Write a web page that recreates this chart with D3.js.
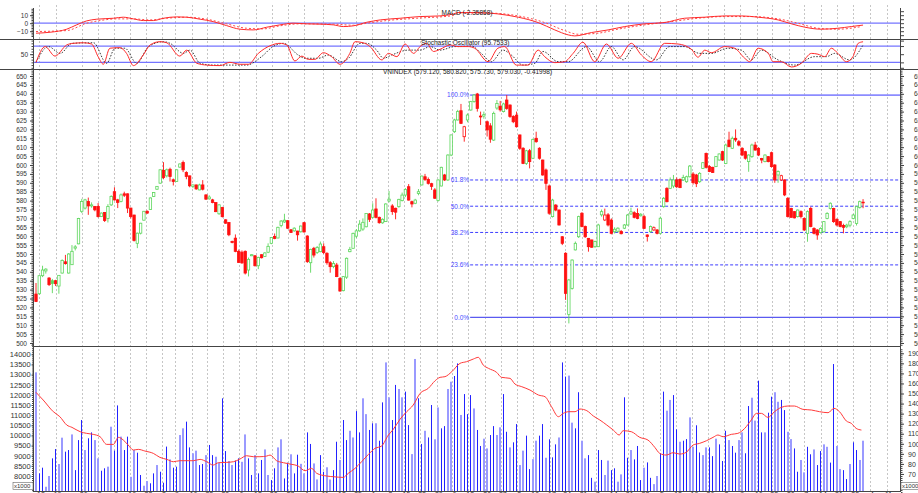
<!DOCTYPE html>
<html><head><meta charset="utf-8">
<script src="https://cdn.jsdelivr.net/npm/d3@7"></script>
<style>body{margin:0;background:#fff;}svg{display:block;font-family:"Liberation Sans",Arial,sans-serif;}</style>
</head><body><svg id="c" width="918" height="493"></svg>
<script>
// ---------------- DATA ----------------
const open=[527.5,527.7,537.8,540.5,536.5,535,535,532,539.3,545.6,
539.3,544,553.3,555.7,574,575.8,579.5,577,576.7,576.7,
571,573.3,570,577.6,585,580.4,579.5,583.8,583.8,575.8,
571.9,556,561.7,569,574,575,582.3,586.4,589.8,597,
593.9,597.6,591.7,590.7,598.8,601.4,595.8,593.9,587.9,588.8,
586,588.8,583.2,581,580.4,578.9,572.6,576.1,569.2,567.7,
557,558.9,551.5,551,551.5,541,549,549,543.4,549.6,
548.6,551,556,559.9,559,566,568,568.7,563.6,563,
562.9,562.5,567.6,560.1,545.1,553.2,550.8,551.3,554.1,550.4,
545.1,542.9,543.8,536.3,529.4,537,551.3,553.2,560,563,
564,565.3,572.5,570.6,575.3,570.6,567.5,568.2,579.8,577,
575.7,576.6,580,583.1,587.8,579.4,578.5,584,588.8,593.4,
591.9,589.5,586,580,588.2,594.4,591.6,605.6,618.7,625.3,
630.5,615.9,625.3,630.9,635.6,639.9,627.5,627.5,624.3,622,
614,632,633,630,636.5,633.7,627.2,628,616.9,609.4,
600.9,608,603.8,615,609.4,602.8,597.2,588.2,571,577.5,
574.7,559.7,550.4,516,530.7,552.3,559.7,572.9,565.4,558.8,
557.9,554.1,554.1,572,569.1,572,569.1,562.5,562.8,562.7,
564.5,566.3,572.5,573.2,572.8,571.5,571,560.7,562.5,563.5,
563.5,561.6,576.6,586.9,586.9,588.2,591.6,591.9,591.6,590.6,
593.4,594.9,594.4,590.6,598.1,606.5,599.1,598.7,599.1,602.8,
607.5,600.9,614,609.4,615,613.1,609.4,607.5,601.9,604.7,
611.2,609.4,603.7,601.9,604.7,606.9,600,594.4,591.6,591.6,
581.3,575.6,573.8,571,573.8,570,561.6,575.6,564.4,563.5,
562,562.5,570,575.6,575.6,569.5,568.2,566,565.3,566.2,
570,567.2,576.2,579.12];
const high=[533.7,538,543.4,542,537,536,535.5,538,547,549.5,
550.5,555,555,570.3,581,581,581.7,579,577,578.6,
573.3,573.6,578,583,587.5,581,584,585,584,576,
572,562,567.5,574.2,574.5,581.7,584.8,588.2,597.5,601.6,
598,598.5,592.4,597.5,600.8,602.5,596.5,594,589,589,
589.5,591.5,583.5,583,581,579,578,576.5,569.5,568,
557.5,561,552.5,552,552,548,550,549.3,548.5,549.8,
551,556,559.5,561.5,565.3,569,572.6,569,564,565,
563,566,568,560.5,553,554,554.5,557,556,551,
546,546,545,537,537.5,548,554,562,564,569,
570,573,573,578.5,581.3,571,570,578.5,585.4,578,
576,581,584.5,587,589.3,580,581,586.5,594,595,
593,590,587,592,599,595,606,617,626,631,
634.3,622,629,636,639.8,640.5,630,630,625,623.5,
630,636.5,636,635,639.3,634,628,630,617,610,
608.5,609,614.8,618.7,610,603,598,589,581,578,
575,560,551,536,547,557,571.5,573.5,566,559,
558,557.5,567,575,575.5,573,570,565,565,563.5,
566.8,572.5,576,574,575.6,573,572,561,566,565.5,
564,571,582,587.5,593,594.4,593,592.5,594.5,594,
600,596,595,596,601.6,607,600,599,605,606.5,
608,612,618.7,616,620,614,610,608,606,612,
613,610,604,606,605,607.5,600.5,597,594.5,592,
582,576,574,575,574.5,570.5,574.5,576.5,565,564,
565,568.5,573.5,579,576,570,568.5,567,567,569,
572.5,577,580,580.82];
const low=[523,527,537,539,532,528,532,527.7,539,544,
539,544,552,555.5,573,575,572,576,574,570.5,
570.8,568,567.7,577,580,575.8,579,582,573,570,
557,553.3,561,568.8,572.5,574.8,582,586,589.5,592,
593,590.7,588.5,590.5,598.5,596,592,587.5,587,586,
585.8,585.7,580.5,580.5,578.5,573.5,572,570.5,567,560,
556,551,545,544.5,538.5,537.4,548.8,543,541.5,547.5,
548.3,550.5,555.5,558.3,558.8,565,567.5,564,561.8,562.5,
557.5,562,562,545,539.5,548,550,551,550,544,
539.5,542,537,528.8,529,536,551,553,559,562.5,
563,565,568,570,570,567,567,568,579,572,
569.5,576,579.5,582,580,576.2,578,583,588.5,591,
589,586,581,579.5,588,591,591,605,618,625,
623,613.1,624,630.5,635,630,622.5,626,616,612.5,
613.5,631,630,629.5,631,626.5,623.5,621,608.5,600.5,
600,598.1,603.5,612.5,603,594,586,572,570.5,574,
566,555,524.2,511,530,552,559,565,559,551.3,
553.5,553.5,554,571,568.5,565.5,561,561.5,562,561,
564,566,572,570,569.5,571,564,557,562,563,
561,561,576,579,586.5,587,587,587,591,590,
593,589,587.6,590,597.8,598,596,595.5,598.8,602.5,
602.3,600.5,610,609,613,610.5,605,603,596.2,604,
608,605,601,601.5,601.5,598.5,590,590,591,582.5,
570.5,570.5,570,570.5,570,563,556.9,565,561,558,
561.5,562,569.5,575,567.5,565.5,565,561.6,564.5,565,
569.5,566,575.5,575.73];
const close=[523.3,537.8,541,541.5,532.8,533.5,533.3,538,546.4,544.6,
550,551.5,554,570,579.5,580.4,577,577.6,574.8,571,
573,568.8,576.7,582.3,580.4,579,583.2,583,575.8,571,
557.6,561.7,567.3,574,573,581.5,584.5,588,597.3,593,
597.3,593.5,590.7,597.3,600.6,597.3,593.5,588.3,588.8,586.6,
588.8,586.4,580.8,582,578.9,573.8,577.6,571,567.3,560.8,
556.5,551.5,545.3,545,539.3,547,549.6,543.4,548.1,547.9,
550.6,554.3,559.3,558.7,565,568.5,569,564.5,562.1,564.5,
560.8,565.7,562.4,545.7,552.6,549.4,553.7,555.6,550.8,545.1,
542.9,544.7,537.3,529.2,537.3,547.6,552.6,561.6,563,566.8,
567.8,572.8,569.5,574.7,570.6,567.6,569.5,578.1,580.8,573.8,
573.5,580.7,583.1,586.3,580.3,578.1,580.3,585,593.8,591.9,
589.7,588,581.3,591.6,598.7,591.6,605.6,616.9,625.3,630,
623.4,621.5,628.1,635.6,639.3,631.8,627,628.3,619.7,614.5,
629,634.5,631,634.3,631.8,627.2,624.3,621.5,609.4,600.9,
608,601.9,614.4,613.1,603.8,594.4,589.7,572.9,580.3,574.7,
566.3,556,527.9,535.4,546.6,556,571,565.4,559.7,554.1,
553.8,557,566.3,573.8,571.9,566.3,561.6,563.9,564.5,561.4,
566.3,571.9,573.7,570.6,570,572.3,564.4,559.8,565.4,564.8,
561.6,570.1,581.3,579.4,591.6,591.6,587.8,587.3,593,593.4,
599.4,590.1,589.5,595.3,601.3,598.7,596.3,595.8,604.7,606.2,
602.8,611.2,610.3,615,614.1,611.2,605.6,603.8,605.6,611.2,
608.4,605.6,602.8,605.6,601.9,599.1,591.6,596.3,594,583.2,
571,570.6,570.3,574.7,571,563.5,573.8,565.4,561.6,560.7,
564.4,568.2,572.8,578.5,568.2,566.3,565.4,565,566.2,568.2,
571.9,576.6,579.4,579.03];
const volume=[13110,8130,8410,7470,8000,8870,9330,8590,9890,9200,
9280,10050,8290,9770,10760,9280,9860,10150,9770,8870,
8260,8380,8460,10430,9250,11480,9940,9280,9940,7960,
9280,9150,8050,7520,7750,7640,8130,8540,8210,7670,
9450,8820,8410,8460,10020,10350,10680,9410,9120,9250,
8540,8590,9030,9530,9030,8950,8660,11830,9230,8740,
8540,8760,8870,8700,10050,8870,8050,9030,8130,8790,
9310,8050,7800,8380,9410,9810,7880,8660,9070,8130,
9050,8600,8130,10150,9580,8620,7830,9030,8210,8430,
7830,8290,9690,8790,10760,9770,10230,9900,11200,10150,
11830,11050,10270,10600,10600,9740,11630,13600,11880,10760,
12490,12290,11880,12160,10510,9080,13770,11830,9580,10230,
9900,11500,9810,11380,10350,10460,12290,12650,12930,13550,
11010,12040,11050,11990,11330,10270,9480,9840,9360,10020,
10460,10020,10400,12040,10180,9410,9660,10560,8540,9250,
9990,8340,8830,9740,9990,10560,8900,9810,8920,9560,
9900,13600,12900,12950,10630,10350,12130,9740,8870,9030,
7910,7720,9280,8790,8050,8760,8290,8380,7720,8080,
11880,8900,9280,8820,9480,7800,8410,8670,7910,7600,
8000,9120,12160,11220,11750,11990,10300,9690,9740,9820,
10890,9440,10500,9160,9030,9410,9410,8980,9840,9560,
8740,10230,9770,9480,9150,9770,10150,9120,11450,11860,
10730,12700,10150,10150,11120,11910,12130,11660,11750,11250,
10180,9820,9360,8210,8790,8180,9440,9070,9310,8540,
9230,9560,9440,8660,13520,9480,8340,8290,7850,8590,
9660,9280,8790,9740];
const volMaIdx=[0,2.2,5.3,7.3,9.4,11,13.5,15.5,17.5,19.6,21.6,23.7,25.2,26.7,28.2,29.8,31.3,33.3,35.9,37.9,
40,42,44,46,48.1,50.2,52.2,54.2,55.8,58.3,60.4,62.4,64.4,66.5,68.5,70.6,71.6,73.6,75.7,77.7,
80.2,82.3,84.3,85.9,89,91,94,95.5,97.6,99.6,101.7,103.7,105.7,107.8,109.3,111.4,113.4,115.4,117.5,120,
122.1,123.6,125.1,127.2,129.7,131.7,133.8,135.3,136.8,138.4,140.9,142.4,145,146.5,148.6,151.1,153.7,155.7,157.7,159.8,
161.3,162.9,164.9,166.4,168.5,170.5,172.5,174.6,176.6,178.4,179.6,182.1,184.7,187.2,189.3,190.8,192.8,194.9,196.9,198.9,
201,203,205.1,207.1,208.6,210.2,212.7,214.7,216.8,218.8,220.4,221.9,223.9,225.9,228,230,232,234.6,237.2,239.7,
242.3,244.1,245.8,247.9,249.4,250.9,252.5];
const volMaVal=[12124,11746,11170,10924,10513,10398,10184,10102,10053,9937,9559,9559,9905,9773,9527,9280,9313,9231,9115,8918,
8820,8704,8754,8754,8754,8820,8704,8540,8655,8671,8704,8836,9000,8951,8951,8984,9033,8754,8655,8590,
8491,8260,8376,8129,7997,7964,7931,8129,8376,8704,9066,9362,9477,10020,10299,10809,11170,11500,12075,12321,
12699,12864,12897,13143,13554,13636,13768,13850,13472,13308,13110,12864,12815,12535,12403,12239,11992,11910,11417,10924,
11088,11170,11170,11302,11220,10957,10759,10513,10266,10020,10233,10184,9905,9773,9411,9115,9033,9148,9082,9165,
9527,9609,9740,9905,10020,9937,10053,10102,10348,10759,11088,11088,10891,11170,11384,11450,11450,11286,11253,11170,
11121,11335,11170,10710,10595,10348,10266];
const macdIdx=[0,4.3,9.4,12.4,15.5,18.6,23.7,26.7,29.8,32.8,35.9,39,43,46.1,50.2,54.2,58.3,62.4,66.5,70.6,
74.6,78.7,82.8,86.9,91,94,97.1,101.2,105.3,111.4,117.5,123.6,127.7,129.1,135.2,141.3,147.5,153.6,158.7,162.8,
164.8,169.9,175,180.1,186.2,192.3,198.4,204.6,210.7,215.8,220.9,227,231.1,235.2,240.2,245.3,249.4,253];
const macdVal=[-12.5,-11.3,-7.5,-2.1,2.9,5,6.2,7.5,5.4,3.3,3.3,6.2,7.9,7.5,5,2,-3,-7.5,-8.4,-5,
-2.1,0,-0.8,-1.2,-2.1,-4.2,-3.3,1.2,4.1,6.2,8.3,9.1,11.6,13.3,13.3,11.6,7.5,0.8,-8.4,-14.6,
-15.9,-11.7,-8.4,-4.2,-0.8,0.8,6.2,7.5,9.1,9.1,7.5,4.1,-0.8,-5,-7.5,-6.3,-4.2,-2.36];
const signalIdx=[0,9.4,15.5,19.6,24.7,29.8,34.9,40,46.1,52.2,58.3,64.4,69.5,74.6,80.8,91,97.1,101.2,107.3,116.5,
127.7,129.1,139.3,147.5,155.6,161.7,165.8,171.9,178,186.2,194.4,202.5,210.7,218.8,227,233.1,239.2,245.3,252.5];
const signalVal=[-10.4,-9.2,0,3.3,5.4,5.4,4.1,6.2,7.5,5,-0.8,-6.3,-7.1,-3.3,-0.8,-1.2,-2.5,0,3.3,6.2,
9.6,12.5,12.5,9.1,0.8,-9.2,-13.8,-12.5,-7.5,-2.1,2,6.2,8.3,8.3,5.4,0,-6.3,-7.5,-4.2];
const stochKIdx=[0,2.8,5.8,9.4,11.4,14.5,17,19,20.6,22.6,25.7,27.7,29.8,32.8,34.9,37.9,40,44,46.1,49.2,
52.2,56.3,59.3,62.4,65,68,71.6,74.6,76.7,79.2,81.3,83.3,85.3,87.9,90.4,93,96,97.6,100.1,102.2,
105.8,107.8,110.4,112.9,115.5,117.5,119.5,121.6,123.6,126.7,129.1,132.2,134.2,138.3,141.3,143.4,146.9,150.5,153.6,155.6,
158.7,161.7,164.3,167.3,170.9,174.5,178.1,182.1,185.2,188.2,192.3,196.4,200.5,202.5,204.6,206.6,210.7,213.7,216.8,218.3,
220.9,224,225.5,228,231.1,234.1,237.2,239.2,241.3,243.3,245.3,247.9,249.9,251.5,253];
const stochKVal=[20,78,43,84,90,92,87.5,41,13,72,74,53,8,47,84,96,92,43,65,16.5,
10,8,20,13,13,53,81,90,84,25,43,31,31,55.5,41,13,53,96,92,78,
29,53,41,87.5,53,78,90,60,68,84,78,78,72,22.5,72,78,10,10,65,41,
19,22.5,53,94,22.5,87.5,35,90,47,22.5,90,87.5,68,39,65,55.5,78,72,35,22.5,
72,53,22.5,22.5,3,16.5,53,50,41,72,53,22.5,41,90,95.75];
const stochDIdx=[0,3.8,7.4,11,17.6,21.6,24.2,27.2,30.8,34.4,39,41,45.1,47.1,50.2,54.2,60.4,64.4,69,72.5,
75.7,80.2,82.3,86.4,89.4,93.5,95.6,99.1,101.2,104.2,106.3,108.8,113.9,117.5,120.6,123.6,128.2,129.1,133.2,136.2,
139.3,142.9,145.4,149,152.6,155.1,159.7,162.8,168.4,172.4,176,179.6,183.1,189.8,193.8,198.4,203,206.6,211.7,215.8,
218.8,221.9,227,232.1,238.2,241.8,244.3,248.9,253];
const stochDVal=[20,78,53,90,92,16.5,72,72,16.5,78,96,90,53,65,16.5,10,10,10,41,78,
90,47,35,35,47,22.5,35,90,90,65,35,47,65,65,78,65,78,78,80,53,
22.5,65,47,10,16.5,60,22.5,22.5,78,22.5,78,29,78,29,78,78,53,53,72,65,
29,65,29,10,41,41,53,29,84];
const tickIdx=[0.9,6,14,18.9,23.9,28.8,33.8,38.5,42.5,47.6,52.4,57.3,62.2,67.3,72.1,77.2,82.1,87.9,93,97.9,
102.7,107.8,112.7,117.5,122.6,127.4,132.2,137.4,142.2,147.2,152.1,157.2,161.9,166.9,171.2,176.1,181,185.8,190.9,195.8,
200.8,205.7,210.6,215.4,220.5,225.2,230.3,235,240.1,245,250,255.1,260.2];
const tickLabels=["12","19","26","2","9","16","23","2","9","16","23","30","6","13","20","27","4","11","18","25",
"1","8","15","22","29","6","13","20","27","3","10","17","24","31","7","14","21","28","5","12",
"19","26","2","9","16","23","30","7","14","21","28","4","11"];
const priceTicks=[500,505,510,515,520,525,530,535,540,545,550,555,560,565,570,575,580,585,590,595,600,605,610,615,620,625,630,635,640,645,650];
const volTicks=[8000,8500,9000,9500,10000,10500,11000,11500,12000,12500,13000,13500,14000];
const volRightTicks=[70,80,90,100,110,120,130,140,150,160,170,180,190];
const macdTicks=[-10,0,10];
const stochTicks=[50];
const fibHigh=639.3, fibLow=514.4, fibStartIdx=132.8;
const fibLevels=[1,0.618,0.5,0.382,0.236,0];
const fibLabels=["100.0%","61.8%","50.0%","38.2%","23.6%","0.0%"];
const titleMacd="MACD (-2.35858)";
const titleStoch="Stochastic Oscillator (95.7533)";
const titlePrice="VNINDEX (579.120, 580.820, 575.730, 579.030, -0.41998)";

// ---------------- DRAW ----------------
const svg=d3.select("#c");
svg.append("rect").attr("width",918).attr("height",493).attr("fill","#fff");
const xS=d3.scaleLinear().domain([-0.918,264.3]).range([33,900]);
const yP=d3.scaleLinear().domain([500,650]).range([343,76]);
const yM=d3.scaleLinear().domain([-10,10]).range([31.2,15.2]);
const yS=d3.scaleLinear().domain([0,100]).range([67.8,40.6]);
const yV=d3.scaleLinear().domain([8000,14000]).range([476,354.3]);
const yVR=d3.scaleLinear().domain([60,190]).range([484,353.3]);
const X0=33,X1=900,YB=491;
const FONT='"Liberation Sans",Arial,sans-serif';

// grid lines
svg.append("g").selectAll("line").data(tickIdx).join("line")
 .attr("x1",d=>Math.round(xS(d))+0.5).attr("x2",d=>Math.round(xS(d))+0.5)
 .attr("y1",5).attr("y2",YB).attr("stroke","#c6c6c6").attr("stroke-dasharray","2,2");

// blue reference lines
const refs=[yM(0),yS(80),yS(20)];
svg.append("g").selectAll("line").data(refs).join("line")
 .attr("x1",X0).attr("x2",X1).attr("y1",d=>d).attr("y2",d=>d)
 .attr("stroke","#7474ff").attr("stroke-width",1.3);

// fibonacci
const fg=svg.append("g");
fibLevels.forEach((lv,k)=>{
  const p=fibLow+lv*(fibHigh-fibLow);
  const solid=(lv===1||lv===0);
  fg.append("line").attr("x1",xS(fibStartIdx)).attr("x2",X1).attr("y1",yP(p)).attr("y2",yP(p))
    .attr("stroke",solid?(lv===1?"#8c8cff":"#5a5af0"):"#3d3dff")
    .attr("stroke-width",solid?(lv===1?1.8:1.2):1)
    .attr("stroke-dasharray",solid?null:"3,2");
  fg.append("text").attr("x",xS(fibStartIdx)-1).attr("y",yP(p)+2.3).attr("text-anchor","end")
    .attr("font-size",6.5).attr("font-family",FONT).attr("fill","#4a4aff").text(fibLabels[k]);
});

// candles
const idx=d3.range(close.length);
const up=i=> i===0 ? close[i]>=open[i] : close[i]>=close[i-1];
const col=i=> up(i) ? "#5cd65c" : "#ff1010";
const cg=svg.append("g");
cg.selectAll("line").data(idx).join("line")
 .attr("x1",i=>xS(i)).attr("x2",i=>xS(i)).attr("y1",i=>yP(high[i])).attr("y2",i=>yP(low[i]))
 .attr("stroke",col).attr("stroke-width",0.9);
cg.selectAll("rect").data(idx).join("rect")
 .attr("x",i=>xS(i)-1.2).attr("width",2.4)
 .attr("y",i=>yP(Math.max(open[i],close[i])))
 .attr("height",i=>Math.max(Math.abs(yP(open[i])-yP(close[i])),0.7))
 .attr("fill",i=> close[i]>open[i] ? "#fff" : col(i))
 .attr("stroke",col).attr("stroke-width",0.8);

// volume bars (1px bars; ones that fall between two pixels are drawn as 2px light bars)
const barLeft=i=>xS(i)-0.5;
const frac=i=>barLeft(i)-Math.floor(barLeft(i));
const isLight=i=>frac(i)>0.28 && frac(i)<0.72;
svg.append("g").selectAll("rect").data(idx).join("rect")
 .attr("x",i=>isLight(i)?Math.floor(barLeft(i)):Math.round(barLeft(i)))
 .attr("width",i=>isLight(i)?2:1)
 .attr("y",i=>yV(volume[i])).attr("height",i=>YB-yV(volume[i]))
 .attr("fill",i=>isLight(i)?"#9a9aff":"#2222ff");

// lines
const lineOf=(xs,ys,ysc,curve)=>d3.line().x((d,k)=>xS(xs[k])).y((d,k)=>ysc(ys[k])).curve(curve||d3.curveLinear)(ys);
svg.append("path").attr("d",lineOf(volMaIdx,volMaVal,yV,d3.curveMonotoneX)).attr("fill","none").attr("stroke","#ff3a3a").attr("stroke-width",1);
svg.append("path").attr("d",lineOf(signalIdx,signalVal,yM,d3.curveMonotoneX)).attr("fill","none").attr("stroke","#ff4a4a").attr("stroke-width",1).attr("stroke-dasharray","2,2");
svg.append("path").attr("d",lineOf(macdIdx,macdVal,yM,d3.curveMonotoneX)).attr("fill","none").attr("stroke","#ff2a2a").attr("stroke-width",1);
svg.append("path").attr("d",lineOf(stochDIdx,stochDVal,yS,d3.curveMonotoneX)).attr("fill","none").attr("stroke","#222").attr("stroke-width",0.9).attr("stroke-dasharray","1.5,1.5");
svg.append("path").attr("d",lineOf(stochKIdx,stochKVal,yS,d3.curveMonotoneX)).attr("fill","none").attr("stroke","#ff2a2a").attr("stroke-width",1);

// separators / frame
const fr=svg.append("g").attr("stroke","#444").attr("stroke-width",1);
fr.append("line").attr("x1",0).attr("x2",918).attr("y1",39.5).attr("y2",39.5);
fr.append("line").attr("x1",0).attr("x2",918).attr("y1",69.5).attr("y2",69.5);
fr.append("line").attr("x1",X0).attr("x2",X1).attr("y1",346.5).attr("y2",346.5);
fr.append("line").attr("x1",X0).attr("x2",X1).attr("y1",YB+0.5).attr("y2",YB+0.5);
fr.append("line").attr("x1",X0+0.5).attr("x2",X0+0.5).attr("y1",8).attr("y2",YB+1);
fr.append("line").attr("x1",X1+0.5).attr("x2",X1+0.5).attr("y1",8).attr("y2",YB+1);

// axes helper
function ax(gen,tx,vals,size,pad,fs,labels){
  const a=gen.tickValues(vals).tickSize(size).tickPadding(pad);
  a.tickFormat(labels ? d3.format("d") : "");
  const g=svg.append("g").attr("transform",`translate(${tx},0)`).call(a);
  g.select(".domain").remove();
  g.attr("font-size",fs).attr("font-family",FONT);
  g.selectAll("line").attr("stroke","#444");
  g.selectAll("text").attr("fill","#333");
  return g;
}
const minor=(a,b,s)=>d3.range(a,b+s/2,s);
// price
ax(d3.axisLeft(yP),X0,priceTicks,3,3,6.5,true);
ax(d3.axisLeft(yP),X0,minor(499,653,1),1.5,0,6,false);
ax(d3.axisRight(yP),X1+1,priceTicks,3,10,6.5,true);
ax(d3.axisRight(yP),X1+1,minor(499,653,1),1.5,0,6,false);
// volume
ax(d3.axisLeft(yV),X0,volTicks,1.5,0.8,7.5,true);
ax(d3.axisLeft(yV),X0,minor(7300,14500,100),1,0,6,false);
ax(d3.axisRight(yVR),X1+1,volRightTicks,3,4,7,true);
ax(d3.axisRight(yVR),X1+1,minor(50,194,2),1.5,0,6,false);
// macd
ax(d3.axisLeft(yM),X0,macdTicks,3,2,6.5,true);
ax(d3.axisLeft(yM),X0,minor(-16,18,2),1.5,0,6,false);
ax(d3.axisRight(yM),X1+1,[-15,-10,-5,0,5,10,15],3,4,6.5,false);
// stoch
ax(d3.axisLeft(yS),X0,stochTicks,3,2,6.5,true);
ax(d3.axisLeft(yS),X0,minor(0,100,10),1.5,0,6,false);
ax(d3.axisRight(yS),X1+1,[0,20,50,80,100],3,4,6.5,false);

// x labels (cut by the window bottom)
svg.append("g").selectAll("text").data(tickIdx).join("text")
 .attr("x",d=>xS(d)+2).attr("y",491.8).attr("dominant-baseline","hanging").attr("text-anchor","middle")
 .attr("font-size",7).attr("font-family",FONT).attr("fill","#333").text((d,k)=>tickLabels[k]);

// unit boxes
[[14,"x1000"],[902,"x1000"]].forEach(([x,t])=>{
  svg.append("rect").attr("x",x-1).attr("y",482.5).attr("width",20).attr("height",7).attr("fill","#fff").attr("stroke","#666").attr("stroke-width",0.6);
  svg.append("text").attr("x",x).attr("y",488).attr("font-size",6).attr("font-family",FONT).attr("fill","#333").text(t);
});

// titles
const tt=(x,y,t)=>svg.append("text").attr("x",x).attr("y",y).attr("font-size",6.5).attr("font-family",FONT).attr("fill","#222").text(t);
tt(441.5,14.8,titleMacd);
tt(421,45,titleStoch);
tt(383,74.2,titlePrice);
</script></body></html>
